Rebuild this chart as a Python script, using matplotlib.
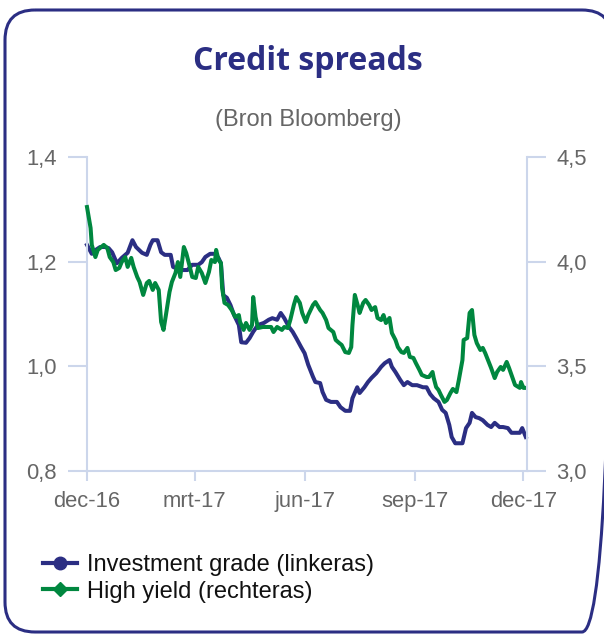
import numpy as np
import pandas as pd
import matplotlib
matplotlib.use('Agg')
import matplotlib.pyplot as plt
from matplotlib.lines import Line2D
from matplotlib.patches import FancyBboxPatch
from matplotlib.ticker import FixedLocator, FuncFormatter

plt.rcParams['font.family'] = ['Liberation Sans', 'DejaVu Sans']

# investment grade spread (left axis)
ig_dates = [
    '2016-12-01', '2016-12-05', '2016-12-08', '2016-12-12', '2016-12-16', '2016-12-19', '2016-12-22', '2016-12-26', '2016-12-30',
    '2017-01-04', '2017-01-08', '2017-01-11', '2017-01-16', '2017-01-20', '2017-01-23', '2017-01-25', '2017-01-29',
    '2017-02-01', '2017-02-04', '2017-02-09', '2017-02-11', '2017-02-17', '2017-02-23', '2017-02-27',
    '2017-03-04', '2017-03-07', '2017-03-10', '2017-03-14', '2017-03-18', '2017-03-21', '2017-03-23', '2017-03-25', '2017-03-28', '2017-03-31',
    '2017-04-03', '2017-04-07', '2017-04-09', '2017-04-13', '2017-04-16', '2017-04-19', '2017-04-23', '2017-04-28',
    '2017-05-02', '2017-05-05', '2017-05-09', '2017-05-12', '2017-05-15', '2017-05-19', '2017-05-22', '2017-05-25', '2017-05-29',
    '2017-06-01', '2017-06-04', '2017-06-08', '2017-06-10', '2017-06-14', '2017-06-16', '2017-06-19', '2017-06-23', '2017-06-28',
    '2017-07-01', '2017-07-05', '2017-07-09', '2017-07-11', '2017-07-15', '2017-07-17', '2017-07-21', '2017-07-24', '2017-07-27', '2017-07-31',
    '2017-08-04', '2017-08-07', '2017-08-11', '2017-08-13', '2017-08-16', '2017-08-20', '2017-08-23', '2017-08-26', '2017-08-30',
    '2017-09-03', '2017-09-08', '2017-09-11', '2017-09-14', '2017-09-17', '2017-09-21', '2017-09-24', '2017-09-27', '2017-09-30',
    '2017-10-02', '2017-10-05', '2017-10-08', '2017-10-11', '2017-10-14', '2017-10-17', '2017-10-19', '2017-10-22', '2017-10-25', '2017-10-28',
    '2017-11-01', '2017-11-04', '2017-11-07', '2017-11-11', '2017-11-14', '2017-11-18', '2017-11-21', '2017-11-24', '2017-11-28', '2017-11-30',
    '2017-12-03',
]
ig_values = [
    1.232, 1.215, 1.222, 1.228, 1.228, 1.226, 1.218, 1.197, 1.207,
    1.217, 1.241, 1.228, 1.217, 1.213, 1.232, 1.241, 1.241,
    1.218, 1.213, 1.213, 1.190, 1.184, 1.184, 1.194,
    1.194, 1.199, 1.209, 1.215, 1.215, 1.207, 1.197, 1.136, 1.131, 1.117,
    1.098, 1.079, 1.046, 1.045, 1.054, 1.066, 1.079, 1.083,
    1.089, 1.092, 1.089, 1.102, 1.092, 1.075, 1.066, 1.054, 1.037,
    1.025, 1.003, 0.980, 0.970, 0.968, 0.951, 0.936, 0.932, 0.932,
    0.922, 0.915, 0.915, 0.939, 0.960, 0.949, 0.960, 0.970, 0.978, 0.987,
    0.999, 1.006, 1.012, 0.999, 0.989, 0.974, 0.964, 0.970, 0.964,
    0.964, 0.960, 0.960, 0.947, 0.939, 0.932, 0.917, 0.911, 0.888,
    0.865, 0.853, 0.853, 0.853, 0.882, 0.892, 0.911, 0.903, 0.901, 0.897,
    0.888, 0.884, 0.892, 0.884, 0.884, 0.882, 0.873, 0.873, 0.873, 0.882,
    0.865,
]

# high yield spread (right axis)
hy_dates = [
    '2016-12-01', '2016-12-04', '2016-12-05', '2016-12-08', '2016-12-10', '2016-12-13', '2016-12-15', '2016-12-18', '2016-12-20', '2016-12-23', '2016-12-25', '2016-12-28', '2016-12-30',
    '2017-01-02', '2017-01-04', '2017-01-07', '2017-01-09', '2017-01-12', '2017-01-14', '2017-01-17', '2017-01-20', '2017-01-22', '2017-01-25', '2017-01-27', '2017-01-30',
    '2017-02-01', '2017-02-03', '2017-02-05', '2017-02-08', '2017-02-10', '2017-02-13', '2017-02-15', '2017-02-17', '2017-02-20', '2017-02-22', '2017-02-25', '2017-02-27',
    '2017-03-02', '2017-03-04', '2017-03-07', '2017-03-10', '2017-03-13', '2017-03-15', '2017-03-18', '2017-03-19', '2017-03-21', '2017-03-23', '2017-03-24', '2017-03-26', '2017-03-29',
    '2017-04-01', '2017-04-04', '2017-04-07', '2017-04-08', '2017-04-11', '2017-04-13', '2017-04-16', '2017-04-18', '2017-04-19', '2017-04-21', '2017-04-23', '2017-04-27', '2017-04-30',
    '2017-05-04', '2017-05-06', '2017-05-09', '2017-05-13', '2017-05-15', '2017-05-18', '2017-05-20', '2017-05-23', '2017-05-25', '2017-05-28', '2017-05-30',
    '2017-06-02', '2017-06-04', '2017-06-08', '2017-06-10', '2017-06-14', '2017-06-16', '2017-06-19', '2017-06-21', '2017-06-25', '2017-06-27', '2017-06-30',
    '2017-07-02', '2017-07-05', '2017-07-08', '2017-07-10', '2017-07-11', '2017-07-13', '2017-07-16', '2017-07-17', '2017-07-20', '2017-07-22', '2017-07-25', '2017-07-27', '2017-07-30',
    '2017-08-01', '2017-08-04', '2017-08-06', '2017-08-08', '2017-08-11', '2017-08-13', '2017-08-16', '2017-08-18', '2017-08-21', '2017-08-23', '2017-08-26', '2017-08-28', '2017-08-31',
    '2017-09-02', '2017-09-05', '2017-09-07', '2017-09-11', '2017-09-13', '2017-09-16', '2017-09-17', '2017-09-19', '2017-09-21', '2017-09-23', '2017-09-26', '2017-09-28',
    '2017-10-01', '2017-10-03', '2017-10-06', '2017-10-08', '2017-10-11', '2017-10-12', '2017-10-15', '2017-10-17', '2017-10-19', '2017-10-21', '2017-10-23', '2017-10-26', '2017-10-28', '2017-10-30',
    '2017-11-02', '2017-11-04', '2017-11-07', '2017-11-09', '2017-11-12', '2017-11-14', '2017-11-17', '2017-11-19', '2017-11-22', '2017-11-24', '2017-11-28', '2017-11-29',
    '2017-12-01', '2017-12-03',
]
hy_values = [
    4.261, 4.161, 4.080, 4.022, 4.056, 4.070, 4.080, 4.065, 4.022, 3.998, 3.960, 3.970, 3.998,
    4.022, 3.975, 4.018, 3.975, 3.927, 3.903, 3.841, 3.898, 3.908, 3.865, 3.898, 3.865,
    3.712, 3.674, 3.745, 3.855, 3.903, 3.946, 3.998, 3.927, 4.070, 4.041, 3.975, 3.927,
    3.922, 3.975, 3.946, 3.898, 3.951, 4.008, 3.998, 4.056, 4.008, 3.994, 3.874, 3.803, 3.793,
    3.769, 3.736, 3.745, 3.712, 3.674, 3.707, 3.674, 3.697, 3.831, 3.736, 3.683, 3.688, 3.688,
    3.688, 3.664, 3.688, 3.674, 3.688, 3.683, 3.721, 3.793, 3.831, 3.803, 3.755,
    3.712, 3.745, 3.793, 3.807, 3.769, 3.755, 3.721, 3.683, 3.664, 3.626, 3.611,
    3.602, 3.568, 3.564, 3.592, 3.697, 3.841, 3.779, 3.755, 3.803, 3.817, 3.793, 3.769, 3.783,
    3.731, 3.721, 3.745, 3.707, 3.731, 3.659, 3.626, 3.592, 3.568, 3.564, 3.588, 3.545, 3.540,
    3.516, 3.483, 3.459, 3.449, 3.449, 3.473, 3.444, 3.401, 3.387, 3.363, 3.330, 3.339,
    3.373, 3.392, 3.377, 3.435, 3.530, 3.626, 3.635, 3.755, 3.769, 3.650, 3.611, 3.578, 3.588, 3.564,
    3.521, 3.492, 3.444, 3.473, 3.497, 3.483, 3.521, 3.492, 3.444, 3.411, 3.397, 3.425,
    3.397, 3.397,
]

month_ticks = ['2016-12-01', '2017-03-01', '2017-06-01', '2017-09-01', '2017-12-01']
month_labels = ['dec-16', 'mrt-17', 'jun-17', 'sep-17', 'dec-17']
left_ticks = [0.8, 1.0, 1.2, 1.4]
right_ticks = [3.0, 3.5, 4.0, 4.5]
series_names = ['Investment grade (linkeras)', 'High yield (rechteras)']

NAVY = '#2b2e83'
GREEN = '#00873f'
AXIS = '#ccd6eb'
LABEL = '#666666'

ig = pd.Series(ig_values, index=pd.to_datetime(ig_dates))
hy = pd.Series(hy_values, index=pd.to_datetime(hy_dates))

W, H = 604, 634
fig = plt.figure(figsize=(W / 100, H / 100), dpi=100)

# rounded frame, drawn in pixel units on a background axes; its right side runs off the canvas
bg = fig.add_axes([0, 0, 1, 1], zorder=-1)
bg.set_xlim(0, W)
bg.set_ylim(H, 0)
bg.axis('off')
bg.add_patch(FancyBboxPatch((5, 10), 607, 622, boxstyle='round,pad=0,rounding_size=30',
                            fill=False, edgecolor=NAVY, linewidth=2.2, clip_on=True))

fig.text(308 / W, 1 - 61 / H, 'Credit spreads', ha='center', va='center',
         fontsize=23, fontweight='bold', family='Open Sans', color=NAVY)
fig.text(308 / W, 1 - 120 / H, '(Bron Bloomberg)', ha='center', va='center',
         fontsize=17, color=LABEL)

left, right, top, bottom = 87, 527, 157, 471
ax = fig.add_axes([left / W, 1 - bottom / H, (right - left) / W, (bottom - top) / H])
ax2 = ax.twinx()

ax.plot(ig.index, ig.values, color=NAVY, lw=2.9, solid_joinstyle='round', clip_on=False)
ax2.plot(hy.index, hy.values, color=GREEN, lw=2.9, solid_joinstyle='round', clip_on=False)

ax.set_xlim(pd.Timestamp('2016-12-01'), pd.Timestamp('2017-12-04'))
ax.set_ylim(0.8, 1.4)
ax2.set_ylim(3.0, 4.5)

comma = FuncFormatter(lambda v, p: f'{v:.1f}'.replace('.', ','))
ax.yaxis.set_major_locator(FixedLocator(left_ticks))
ax.yaxis.set_major_formatter(comma)
ax2.yaxis.set_major_locator(FixedLocator(right_ticks))
ax2.yaxis.set_major_formatter(comma)

ax.set_xticks(pd.to_datetime(month_ticks))
ax.set_xticklabels(month_labels)

for a in (ax, ax2):
    for s in a.spines.values():
        s.set_visible(False)
ax.spines['left'].set_visible(True)
ax.spines['bottom'].set_visible(True)
ax2.spines['right'].set_visible(True)
for s in (ax.spines['left'], ax.spines['bottom'], ax2.spines['right']):
    s.set_color(AXIS)
    s.set_linewidth(1.5)

ax.tick_params(axis='y', length=14, width=1.5, color=AXIS, pad=8,
               labelsize=15.8, labelcolor=LABEL)
ax2.tick_params(axis='y', length=14, width=1.5, color=AXIS, pad=7,
                labelsize=15.8, labelcolor=LABEL)
ax.tick_params(axis='x', length=7, width=1.5, color=AXIS, pad=7.5,
               labelsize=15.8, labelcolor=LABEL)

handles = [
    Line2D([], [], color=NAVY, lw=3, marker='o', markersize=9),
    Line2D([], [], color=GREEN, lw=3, marker='D', markersize=7),
]
fig.legend(handles, series_names, loc='upper left', bbox_to_anchor=(43 / W, 1 - 554 / H),
           frameon=False, fontsize=17, handlelength=1.45, handletextpad=0.4,
           labelspacing=0.2, borderpad=0, borderaxespad=0, labelcolor='#111111')

fig.savefig('out.png', dpi=100)
